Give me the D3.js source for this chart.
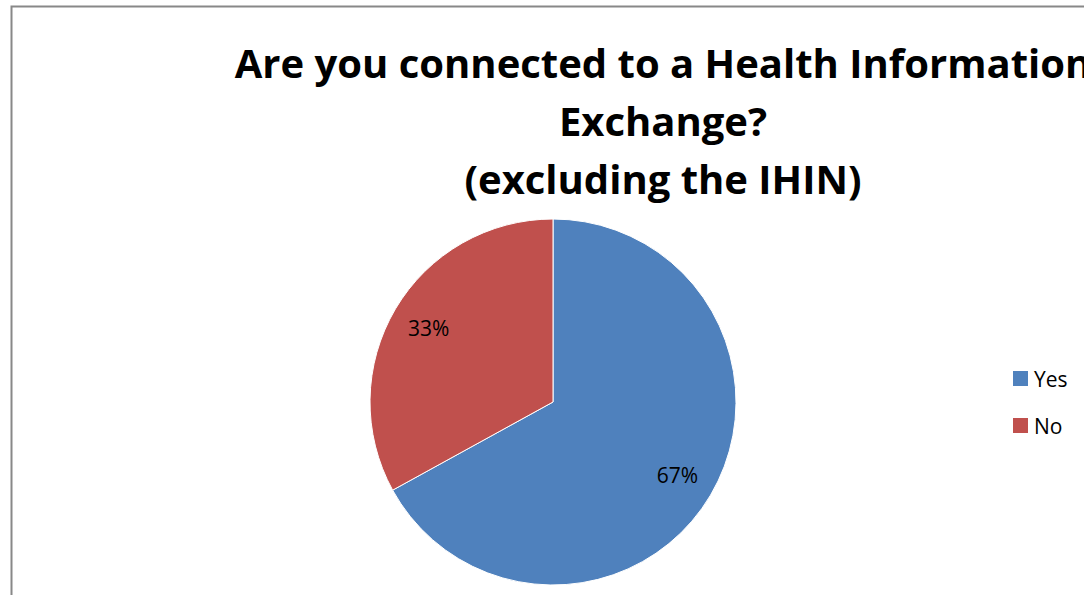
<!DOCTYPE html>
<html>
<head>
<meta charset="utf-8">
<script src="https://cdn.jsdelivr.net/npm/d3@7"></script>
<style>
  html, body { margin: 0; padding: 0; background: #fff; }
  svg { display: block; }
</style>
</head>
<body>
<div id="chart"></div>
<script>
// Survey answers and their shares (percent)
const categories = ["Yes", "No"];
const values = [67, 33];
const labels = ["67%", "33%"];
const colors = ["#4F81BD", "#C0504D"];
const titleLines = [
  "Are you connected to a Health Information",
  "Exchange?",
  "(excluding the IHIN)"
];

const W = 1084, H = 595;
const svg = d3.select("#chart").append("svg")
  .attr("width", W).attr("height", H);

// chart frame (right and bottom edges fall outside the view)
svg.append("rect")
  .attr("x", 11.5).attr("y", 6.5)
  .attr("width", 1200).attr("height", 700)
  .attr("fill", "#fff")
  .attr("stroke", "#888").attr("stroke-width", 2);

// title
const title = svg.append("text")
  .attr("text-anchor", "middle")
  .attr("font-family", "'Open Sans', 'Noto Sans', sans-serif")
  .attr("font-weight", "bold")
  .attr("font-size", 40)
  .attr("fill", "#000");
titleLines.forEach((t, i) => {
  title.append("tspan")
    .attr("x", 663)
    .attr("y", 78 + i * 58)
    .text(t);
});

// pie
const cx = 553, cy = 402, r = 183;
const pie = d3.pie().sort(null).value(d => d.value);
const data = categories.map((c, i) => ({ name: c, value: values[i], label: labels[i], color: colors[i] }));
const arcs = pie(data);
const arc = d3.arc().innerRadius(0).outerRadius(r);
const labelArc = d3.arc().innerRadius(r * 0.79).outerRadius(r * 0.79);

const g = svg.append("g").attr("transform", `translate(${cx},${cy})`);
g.selectAll("path.slice")
  .data(arcs)
  .join("path")
  .attr("class", "slice")
  .attr("d", arc)
  .attr("fill", d => d.data.color)
  .attr("stroke", "#fff")
  .attr("stroke-width", 1);

g.selectAll("text.lbl")
  .data(arcs)
  .join("text")
  .attr("class", "lbl")
  .attr("transform", d => `translate(${labelArc.centroid(d)})`)
  .attr("text-anchor", "middle")
  .attr("dy", "0.35em")
  .attr("font-family", "'Open Sans', 'Noto Sans', sans-serif")
  .attr("font-size", 21)
  .attr("fill", "#000")
  .text(d => d.data.label);

// legend
const legend = svg.append("g").attr("transform", "translate(1013,371)");
const items = legend.selectAll("g.item")
  .data(data)
  .join("g")
  .attr("class", "item")
  .attr("transform", (d, i) => `translate(0,${i * 47})`);
items.append("rect")
  .attr("width", 15).attr("height", 15)
  .attr("fill", d => d.color);
items.append("text")
  .attr("x", 21).attr("y", 15.5)
  .attr("font-family", "'Open Sans', 'Noto Sans', sans-serif")
  .attr("font-size", 21)
  .attr("fill", "#000")
  .text(d => d.name);
</script>
</body>
</html>
